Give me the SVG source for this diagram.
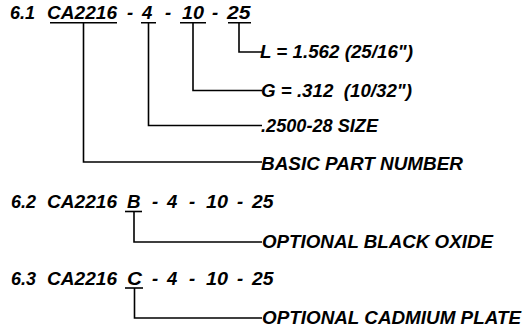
<svg xmlns="http://www.w3.org/2000/svg" width="532" height="336" viewBox="0 0 532 336">
<style>
text{font-family:"Liberation Sans",Arial,Helvetica,sans-serif;font-weight:bold;font-style:italic;font-size:18px;fill:#000}
.h text{font-size:18.5px}
.u,.c{fill:none;stroke:#000;stroke-width:1.6}
</style>
<rect width="532" height="336" fill="#fff"/>
<g id="code-6-1" class="h">
<text x="10" y="18.5" textLength="25" lengthAdjust="spacingAndGlyphs">6.1</text>
<text x="47" y="18.5" textLength="70" lengthAdjust="spacingAndGlyphs">CA2216</text>
<text x="127" y="18.5">-</text>
<text x="142" y="18.5">4</text>
<text x="165" y="18.5">-</text>
<text x="182" y="18.5" textLength="22" lengthAdjust="spacingAndGlyphs">10</text>
<text x="212" y="18.5">-</text>
<text x="227" y="18.5" textLength="23.5" lengthAdjust="spacingAndGlyphs">25</text>
<path class="u" d="M50 22.7H117M141 22.7H156M180 22.7H206M228 22.7H251"/>
</g>
<g id="code-6-2" class="h">
<text x="11" y="208" textLength="25" lengthAdjust="spacingAndGlyphs">6.2</text>
<text x="47" y="208" textLength="70" lengthAdjust="spacingAndGlyphs">CA2216</text>
<text x="127" y="208" textLength="13.5" lengthAdjust="spacingAndGlyphs">B</text>
<text x="152" y="208">-</text>
<text x="167" y="208">4</text>
<text x="189" y="208">-</text>
<text x="206" y="208" textLength="22" lengthAdjust="spacingAndGlyphs">10</text>
<text x="237" y="208">-</text>
<text x="252" y="208" textLength="21.5" lengthAdjust="spacingAndGlyphs">25</text>
<path class="u" d="M125 211.5H142"/>
</g>
<g id="code-6-3" class="h">
<text x="11" y="285" textLength="25" lengthAdjust="spacingAndGlyphs">6.3</text>
<text x="47" y="285" textLength="70" lengthAdjust="spacingAndGlyphs">CA2216</text>
<text x="127" y="285" textLength="15" lengthAdjust="spacingAndGlyphs">C</text>
<text x="152" y="285">-</text>
<text x="167" y="285">4</text>
<text x="189" y="285">-</text>
<text x="206" y="285" textLength="22" lengthAdjust="spacingAndGlyphs">10</text>
<text x="237" y="285">-</text>
<text x="252" y="285" textLength="21.5" lengthAdjust="spacingAndGlyphs">25</text>
<path class="u" d="M125 288H143"/>
</g>
<g id="connectors">
<path class="c" d="M239 22.7V52H262"/>
<path class="c" d="M193 22.7V90.5H262"/>
<path class="c" d="M148.5 22.7V125.5H262"/>
<path class="c" d="M83.5 22.7V162H262"/>
<path class="c" d="M134 211.5V242H262"/>
<path class="c" d="M134.5 288V318H262"/>
</g>
<g id="label-L"><text x="260" y="58" textLength="153" lengthAdjust="spacingAndGlyphs">L = 1.562 (25/16")</text></g>
<g id="label-G"><text x="261" y="96.5" textLength="151" lengthAdjust="spacingAndGlyphs" xml:space="preserve">G = .312  (10/32")</text></g>
<g id="label-size"><text x="261" y="132" textLength="117" lengthAdjust="spacingAndGlyphs">.2500-28 SIZE</text></g>
<g id="label-basic"><text x="261" y="170" textLength="202" lengthAdjust="spacingAndGlyphs">BASIC PART NUMBER</text></g>
<g id="label-black"><text x="262" y="247.5" textLength="231" lengthAdjust="spacingAndGlyphs">OPTIONAL BLACK OXIDE</text></g>
<g id="label-cadmium"><text x="262" y="323.5" textLength="259" lengthAdjust="spacingAndGlyphs">OPTIONAL CADMIUM PLATE</text></g>
</svg>
